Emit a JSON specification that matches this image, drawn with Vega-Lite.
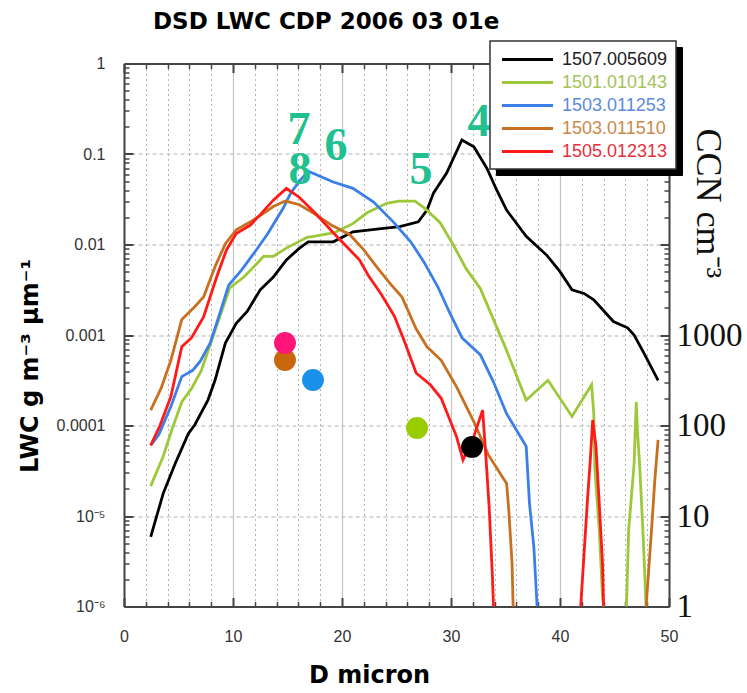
{
  "$schema": "https://vega.github.io/schema/vega-lite/v6.json",
  "autosize": "none",
  "width": 545,
  "height": 543,
  "padding": {"left": 124, "top": 63.5, "right": 78, "bottom": 86.5},
  "background": "#ffffff",
  "config": {"view": {"stroke": null}},
  "title": {"text": "DSD LWC CDP 2006 03 01e", "font": "DejaVu Sans", "fontWeight": "bold", "fontSize": 23, "color": "#000000", "anchor": "start", "frame": "group", "dx": 29, "offset": 0, "dy": 12, "baseline": "alphabetic"},
  "datasets": {
    "curves": [
      {"s": "1507.005609", "d": 2.45, "v": 5.89e-6}, {"s": "1507.005609", "d": 3.6, "v": 1.78e-5}, {"s": "1507.005609", "d": 4.7, "v": 3.8e-5}, {"s": "1507.005609", "d": 5.9, "v": 8.13e-5}, {"s": "1507.005609", "d": 6.5, "v": 1.02e-4}, {"s": "1507.005609", "d": 7.7, "v": 1.91e-4}, {"s": "1507.005609", "d": 8.35, "v": 3.16e-4}, {"s": "1507.005609", "d": 9.3, "v": 8.13e-4}, {"s": "1507.005609", "d": 10.3, "v": 1.35e-3}, {"s": "1507.005609", "d": 11.3, "v": 1.82e-3}, {"s": "1507.005609", "d": 12.5, "v": 3.16e-3}, {"s": "1507.005609", "d": 13.7, "v": 4.37e-3}, {"s": "1507.005609", "d": 14.9, "v": 6.76e-3}, {"s": "1507.005609", "d": 16.1, "v": 9.12e-3}, {"s": "1507.005609", "d": 16.9, "v": 1.07e-2}, {"s": "1507.005609", "d": 19.2, "v": 1.07e-2}, {"s": "1507.005609", "d": 21.0, "v": 1.38e-2}, {"s": "1507.005609", "d": 23.8, "v": 1.51e-2}, {"s": "1507.005609", "d": 25.3, "v": 1.58e-2}, {"s": "1507.005609", "d": 27.0, "v": 1.78e-2}, {"s": "1507.005609", "d": 27.8, "v": 2.4e-2}, {"s": "1507.005609", "d": 28.4, "v": 3.72e-2}, {"s": "1507.005609", "d": 29.6, "v": 6.17e-2}, {"s": "1507.005609", "d": 31.0, "v": 1.43e-1}, {"s": "1507.005609", "d": 32.1, "v": 1.2e-1}, {"s": "1507.005609", "d": 33.3, "v": 6.92e-2}, {"s": "1507.005609", "d": 34.2, "v": 3.98e-2}, {"s": "1507.005609", "d": 35.1, "v": 2.4e-2}, {"s": "1507.005609", "d": 36.9, "v": 1.23e-2}, {"s": "1507.005609", "d": 38.8, "v": 7.59e-3}, {"s": "1507.005609", "d": 40.0, "v": 5.01e-3}, {"s": "1507.005609", "d": 41.1, "v": 3.16e-3}, {"s": "1507.005609", "d": 42.2, "v": 2.88e-3}, {"s": "1507.005609", "d": 43.1, "v": 2.45e-3}, {"s": "1507.005609", "d": 44.9, "v": 1.41e-3}, {"s": "1507.005609", "d": 46.2, "v": 1.2e-3}, {"s": "1507.005609", "d": 46.8, "v": 1.0e-3}, {"s": "1507.005609", "d": 47.7, "v": 6.31e-4}, {"s": "1507.005609", "d": 49.0, "v": 3.16e-4},
      {"s": "1501.010143", "d": 2.45, "v": 2.14e-5}, {"s": "1501.010143", "d": 3.6, "v": 4.57e-5}, {"s": "1501.010143", "d": 4.38, "v": 8.91e-5}, {"s": "1501.010143", "d": 5.3, "v": 1.82e-4}, {"s": "1501.010143", "d": 6.2, "v": 2.57e-4}, {"s": "1501.010143", "d": 7.1, "v": 4.07e-4}, {"s": "1501.010143", "d": 8.35, "v": 1.12e-3}, {"s": "1501.010143", "d": 9.7, "v": 3.31e-3}, {"s": "1501.010143", "d": 11.0, "v": 4.37e-3}, {"s": "1501.010143", "d": 12.2, "v": 6.17e-3}, {"s": "1501.010143", "d": 12.8, "v": 7.41e-3}, {"s": "1501.010143", "d": 13.7, "v": 7.41e-3}, {"s": "1501.010143", "d": 14.9, "v": 9.12e-3}, {"s": "1501.010143", "d": 16.8, "v": 1.2e-2}, {"s": "1501.010143", "d": 17.4, "v": 1.23e-2}, {"s": "1501.010143", "d": 19.3, "v": 1.35e-2}, {"s": "1501.010143", "d": 21.0, "v": 1.7e-2}, {"s": "1501.010143", "d": 22.3, "v": 2.24e-2}, {"s": "1501.010143", "d": 24.1, "v": 2.85e-2}, {"s": "1501.010143", "d": 25.2, "v": 3.02e-2}, {"s": "1501.010143", "d": 26.7, "v": 3.02e-2}, {"s": "1501.010143", "d": 27.6, "v": 2.51e-2}, {"s": "1501.010143", "d": 29.0, "v": 1.74e-2}, {"s": "1501.010143", "d": 30.15, "v": 1.02e-2}, {"s": "1501.010143", "d": 31.4, "v": 5.37e-3}, {"s": "1501.010143", "d": 32.7, "v": 3.24e-3}, {"s": "1501.010143", "d": 33.9, "v": 1.48e-3}, {"s": "1501.010143", "d": 35.1, "v": 6.76e-4}, {"s": "1501.010143", "d": 36.9, "v": 1.91e-4}, {"s": "1501.010143", "d": 38.9, "v": 3.16e-4}, {"s": "1501.010143", "d": 41.1, "v": 1.26e-4}, {"s": "1501.010143", "d": 42.9, "v": 2.82e-4}, {"s": "1501.010143", "d": 43.1, "v": 1.35e-4}, {"s": "1501.010143", "d": 43.2, "v": 3.24e-5}, {"s": "1501.010143", "d": 43.6, "v": 7.08e-6}, {"s": "1501.010143", "d": 43.9, "v": 1.29e-6}, {"s": "1501.010143", "d": 44.0, "v": 1e-6}, {"s": "1501.010143", "d": 44.05, "v": 1e-8}, {"s": "1501.010143", "d": 46.05, "v": 1e-8}, {"s": "1501.010143", "d": 46.1, "v": 1e-6}, {"s": "1501.010143", "d": 46.3, "v": 7.08e-6}, {"s": "1501.010143", "d": 46.8, "v": 3.8e-5}, {"s": "1501.010143", "d": 46.9, "v": 8.91e-5}, {"s": "1501.010143", "d": 47.0, "v": 1.82e-4}, {"s": "1501.010143", "d": 47.1, "v": 8.91e-5}, {"s": "1501.010143", "d": 47.3, "v": 3.8e-5}, {"s": "1501.010143", "d": 47.6, "v": 7.08e-6}, {"s": "1501.010143", "d": 47.9, "v": 1e-6},
      {"s": "1503.011253", "d": 2.45, "v": 6.03e-5}, {"s": "1503.011253", "d": 3.2, "v": 7.94e-5}, {"s": "1503.011253", "d": 4.3, "v": 1.62e-4}, {"s": "1503.011253", "d": 5.3, "v": 3.47e-4}, {"s": "1503.011253", "d": 6.3, "v": 4.07e-4}, {"s": "1503.011253", "d": 7.0, "v": 5.13e-4}, {"s": "1503.011253", "d": 7.9, "v": 8.13e-4}, {"s": "1503.011253", "d": 8.8, "v": 1.74e-3}, {"s": "1503.011253", "d": 9.6, "v": 3.55e-3}, {"s": "1503.011253", "d": 10.8, "v": 5.25e-3}, {"s": "1503.011253", "d": 12.2, "v": 8.91e-3}, {"s": "1503.011253", "d": 13.2, "v": 1.32e-2}, {"s": "1503.011253", "d": 14.0, "v": 1.91e-2}, {"s": "1503.011253", "d": 14.6, "v": 2.51e-2}, {"s": "1503.011253", "d": 15.3, "v": 3.72e-2}, {"s": "1503.011253", "d": 16.1, "v": 5.01e-2}, {"s": "1503.011253", "d": 16.9, "v": 6.46e-2}, {"s": "1503.011253", "d": 19.2, "v": 4.9e-2}, {"s": "1503.011253", "d": 21.0, "v": 4.17e-2}, {"s": "1503.011253", "d": 22.9, "v": 2.95e-2}, {"s": "1503.011253", "d": 24.7, "v": 1.78e-2}, {"s": "1503.011253", "d": 26.3, "v": 1.07e-2}, {"s": "1503.011253", "d": 27.5, "v": 6.46e-3}, {"s": "1503.011253", "d": 28.8, "v": 3.39e-3}, {"s": "1503.011253", "d": 29.9, "v": 1.74e-3}, {"s": "1503.011253", "d": 31.0, "v": 9.33e-4}, {"s": "1503.011253", "d": 32.7, "v": 6.03e-4}, {"s": "1503.011253", "d": 33.9, "v": 3.02e-4}, {"s": "1503.011253", "d": 35.1, "v": 1.35e-4}, {"s": "1503.011253", "d": 36.9, "v": 5.89e-5}, {"s": "1503.011253", "d": 37.2, "v": 1.38e-5}, {"s": "1503.011253", "d": 37.6, "v": 4.57e-6}, {"s": "1503.011253", "d": 37.9, "v": 1e-6},
      {"s": "1503.011510", "d": 2.45, "v": 1.48e-4}, {"s": "1503.011510", "d": 3.4, "v": 2.57e-4}, {"s": "1503.011510", "d": 4.3, "v": 5.25e-4}, {"s": "1503.011510", "d": 5.3, "v": 1.48e-3}, {"s": "1503.011510", "d": 6.4, "v": 2.0e-3}, {"s": "1503.011510", "d": 7.3, "v": 2.63e-3}, {"s": "1503.011510", "d": 8.35, "v": 5.69e-3}, {"s": "1503.011510", "d": 9.3, "v": 1.02e-2}, {"s": "1503.011510", "d": 10.3, "v": 1.45e-2}, {"s": "1503.011510", "d": 11.6, "v": 1.78e-2}, {"s": "1503.011510", "d": 12.8, "v": 2.21e-2}, {"s": "1503.011510", "d": 13.7, "v": 2.63e-2}, {"s": "1503.011510", "d": 14.8, "v": 3.02e-2}, {"s": "1503.011510", "d": 16.1, "v": 2.75e-2}, {"s": "1503.011510", "d": 17.6, "v": 2.14e-2}, {"s": "1503.011510", "d": 19.1, "v": 1.62e-2}, {"s": "1503.011510", "d": 20.7, "v": 1.29e-2}, {"s": "1503.011510", "d": 22.0, "v": 8.71e-3}, {"s": "1503.011510", "d": 23.2, "v": 5.62e-3}, {"s": "1503.011510", "d": 24.4, "v": 3.72e-3}, {"s": "1503.011510", "d": 25.5, "v": 2.63e-3}, {"s": "1503.011510", "d": 26.8, "v": 1.17e-3}, {"s": "1503.011510", "d": 27.8, "v": 7.41e-4}, {"s": "1503.011510", "d": 29.1, "v": 5.25e-4}, {"s": "1503.011510", "d": 30.5, "v": 2.69e-4}, {"s": "1503.011510", "d": 32.1, "v": 1.1e-4}, {"s": "1503.011510", "d": 33.4, "v": 4.79e-5}, {"s": "1503.011510", "d": 35.1, "v": 2.29e-5}, {"s": "1503.011510", "d": 35.3, "v": 1.17e-5}, {"s": "1503.011510", "d": 35.6, "v": 3.02e-6}, {"s": "1503.011510", "d": 35.7, "v": 1e-6}, {"s": "1503.011510", "d": 35.75, "v": 1e-8}, {"s": "1503.011510", "d": 47.85, "v": 1e-8}, {"s": "1503.011510", "d": 47.9, "v": 1e-6}, {"s": "1503.011510", "d": 48.4, "v": 7.08e-6}, {"s": "1503.011510", "d": 48.7, "v": 2.51e-5}, {"s": "1503.011510", "d": 49.0, "v": 6.92e-5},
      {"s": "1505.012313", "d": 2.45, "v": 6.03e-5}, {"s": "1505.012313", "d": 3.3, "v": 1.0e-4}, {"s": "1505.012313", "d": 4.3, "v": 2.09e-4}, {"s": "1505.012313", "d": 5.3, "v": 7.41e-4}, {"s": "1505.012313", "d": 6.2, "v": 9.33e-4}, {"s": "1505.012313", "d": 7.3, "v": 1.58e-3}, {"s": "1505.012313", "d": 8.5, "v": 4.37e-3}, {"s": "1505.012313", "d": 9.4, "v": 8.71e-3}, {"s": "1505.012313", "d": 10.3, "v": 1.32e-2}, {"s": "1505.012313", "d": 11.6, "v": 1.64e-2}, {"s": "1505.012313", "d": 12.5, "v": 2.14e-2}, {"s": "1505.012313", "d": 13.7, "v": 3.09e-2}, {"s": "1505.012313", "d": 14.9, "v": 4.17e-2}, {"s": "1505.012313", "d": 16.1, "v": 3.31e-2}, {"s": "1505.012313", "d": 17.6, "v": 2.19e-2}, {"s": "1505.012313", "d": 19.2, "v": 1.35e-2}, {"s": "1505.012313", "d": 20.4, "v": 9.55e-3}, {"s": "1505.012313", "d": 21.6, "v": 6.76e-3}, {"s": "1505.012313", "d": 22.4, "v": 4.57e-3}, {"s": "1505.012313", "d": 23.6, "v": 2.82e-3}, {"s": "1505.012313", "d": 24.8, "v": 1.62e-3}, {"s": "1505.012313", "d": 25.7, "v": 8.71e-4}, {"s": "1505.012313", "d": 26.8, "v": 3.8e-4}, {"s": "1505.012313", "d": 28.1, "v": 2.82e-4}, {"s": "1505.012313", "d": 29.1, "v": 2.0e-4}, {"s": "1505.012313", "d": 30.5, "v": 7.59e-5}, {"s": "1505.012313", "d": 31.1, "v": 4.17e-5}, {"s": "1505.012313", "d": 32.1, "v": 7.59e-5}, {"s": "1505.012313", "d": 32.9, "v": 1.48e-4}, {"s": "1505.012313", "d": 33.2, "v": 4.57e-5}, {"s": "1505.012313", "d": 33.5, "v": 1.26e-5}, {"s": "1505.012313", "d": 33.8, "v": 2.14e-6}, {"s": "1505.012313", "d": 33.9, "v": 1e-6}, {"s": "1505.012313", "d": 33.95, "v": 1e-8}, {"s": "1505.012313", "d": 41.85, "v": 1e-8}, {"s": "1505.012313", "d": 41.9, "v": 1e-6}, {"s": "1505.012313", "d": 42.5, "v": 1.38e-5}, {"s": "1505.012313", "d": 42.8, "v": 4.57e-5}, {"s": "1505.012313", "d": 43.0, "v": 1.15e-4}, {"s": "1505.012313", "d": 43.3, "v": 5.89e-5}, {"s": "1505.012313", "d": 43.6, "v": 1.38e-5}, {"s": "1505.012313", "d": 43.9, "v": 3.02e-6}, {"s": "1505.012313", "d": 44.0, "v": 1e-6}
    ],
    "dots": [
      {"s": "1503.011510", "d": 14.77, "v": 5.3e-4},
      {"s": "1505.012313", "d": 14.77, "v": 8.16e-4},
      {"s": "1503.011253", "d": 17.34, "v": 3.18e-4},
      {"s": "1501.010143", "d": 26.88, "v": 9.4e-5},
      {"s": "1507.005609", "d": 31.93, "v": 5.8e-5}
    ],
    "nums": [
      {"n": "7", "d": 16.06, "v": 0.184},
      {"n": "8", "d": 16.15, "v": 0.0665},
      {"n": "6", "d": 19.45, "v": 0.1226},
      {"n": "5", "d": 27.25, "v": 0.0665},
      {"n": "4", "d": 32.57, "v": 0.226}
    ]
  },
  "resolve": {"scale": {"color": "independent"}, "legend": {"color": "independent"}, "axis": {"x": "independent", "y": "independent"}},
  "layer": [
    {
      "data": {"name": "curves"},
      "mark": {"type": "line", "strokeWidth": 2.8, "clip": true},
      "encoding": {
        "x": {"field": "d", "type": "quantitative", "scale": {"domain": [0, 50], "nice": false, "zero": false},
          "axis": {"orient": "bottom", "values": [2, 4, 6, 8, 12, 14, 16, 18, 22, 24, 26, 28, 32, 34, 36, 38, 42, 44, 46, 48], "labels": false, "title": null, "domain": false, "grid": true, "gridColor": "#b4b4b4", "gridDash": [2, 3], "gridWidth": 1, "ticks": true, "tickSize": -5, "tickColor": "#444444", "tickWidth": 1.5}},
        "y": {"field": "v", "type": "quantitative", "scale": {"type": "log", "domain": [1e-6, 1], "nice": false},
          "axis": {"orient": "left", "values": [2e-6, 3e-6, 4e-6, 5e-6, 6e-6, 7e-6, 8e-6, 9e-6, 2e-5, 3e-5, 4e-5, 5e-5, 6e-5, 7e-5, 8e-5, 9e-5, 2e-4, 3e-4, 4e-4, 5e-4, 6e-4, 7e-4, 8e-4, 9e-4, 2e-3, 3e-3, 4e-3, 5e-3, 6e-3, 7e-3, 8e-3, 9e-3, 2e-2, 3e-2, 4e-2, 5e-2, 6e-2, 7e-2, 8e-2, 9e-2, 0.2, 0.3, 0.4, 0.5, 0.6, 0.7, 0.8, 0.9], "labels": false, "title": null, "domain": false, "grid": false, "ticks": true, "tickSize": -5, "tickColor": "#444444", "tickWidth": 1.5}},
        "color": {"field": "s", "type": "nominal",
          "scale": {"domain": ["1507.005609", "1501.010143", "1503.011253", "1503.011510", "1505.012313"], "range": ["#000000", "#9cc83a", "#3b7fe8", "#c8701f", "#ff1a1a"]},
          "legend": {"orient": "none", "legendX": 366, "legendY": -22.5, "title": null, "fillColor": "#ffffff", "strokeColor": "#333333", "padding": 8, "symbolType": "M-2.8333,0H2.8333", "symbolSize": 324, "symbolStrokeWidth": 3, "symbolOffset": 19, "labelOffset": 24, "labelFont": "Liberation Sans", "labelFontSize": 18, "rowPadding": 3, "zindex": 2,
            "encode": {"labels": {"update": {"fill": {"signal": "datum.value === '1507.005609' ? '#222222' : datum.value === '1501.010143' ? '#a3c45a' : datum.value === '1503.011253' ? '#5b8ae0' : datum.value === '1503.011510' ? '#c98a4a' : '#e8303c'"}}}, "legend": {"update": {"strokeWidth": {"value": 1.5}}}}}}
      }
    },
    {
      "data": {"name": "dots"},
      "mark": {"type": "point", "filled": true, "size": 480, "opacity": 1},
      "encoding": {
        "x": {"field": "d", "type": "quantitative", "scale": {"domain": [0, 50], "nice": false, "zero": false},
          "axis": {"orient": "bottom", "values": [0, 10, 20, 30, 40, 50], "labels": true, "labelFont": "Liberation Sans", "labelFontSize": 16, "labelColor": "#333333", "labelPadding": 31, "labelFlush": false, "grid": true, "gridColor": "#c4c4c4", "gridWidth": 1.2, "ticks": true, "tickSize": -9, "tickColor": "#444444", "tickWidth": 2, "domain": true, "domainColor": "#444444", "domainWidth": 2,
            "title": "D micron", "titleFont": "DejaVu Sans", "titleFontWeight": "bold", "titleFontSize": 24, "titleColor": "#000000", "titleX": 245, "titleY": 76, "titleAlign": "center", "titleBaseline": "alphabetic"}},
        "y": {"field": "v", "type": "quantitative", "scale": {"type": "log", "domain": [1e-6, 1], "nice": false},
          "axis": {"orient": "left", "values": [1e-6, 1e-5, 1e-4, 1e-3, 1e-2, 0.1, 1], "labelExpr": "datum.value < 5e-6 ? '10⁻⁶' : datum.value < 5e-5 ? '10⁻⁵' : format(datum.value, '~g')", "labelFont": "Liberation Sans", "labelFontSize": 16, "labelColor": "#333333", "labelPadding": 28, "labelFlush": false, "grid": true, "gridColor": "#b4b4b4", "gridDash": [4, 3], "gridWidth": 1, "ticks": true, "tickSize": -9, "tickColor": "#444444", "tickWidth": 2, "domain": true, "domainColor": "#444444", "domainWidth": 2,
            "title": "LWC  g m⁻³ μm⁻¹", "titleFont": "DejaVu Sans", "titleFontWeight": "bold", "titleFontSize": 24, "titleColor": "#000000", "titleX": -94, "titleY": 302, "titleAngle": 270, "titleAlign": "center", "titleBaseline": "middle"}},
        "color": {"field": "s", "type": "nominal",
          "scale": {"domain": ["1507.005609", "1501.010143", "1503.011253", "1503.011510", "1505.012313"], "range": ["#000000", "#99cc00", "#1a90ea", "#c8670c", "#ff1478"]},
          "legend": {"orient": "none", "legendX": 372, "legendY": -16.5, "title": null, "fillColor": "#000000", "strokeColor": "#000000", "padding": 8, "symbolType": "M-2.8333,0H2.8333", "symbolSize": 324, "symbolStrokeWidth": 3, "symbolOffset": 19, "labelOffset": 24, "labelFont": "Liberation Sans", "labelFontSize": 18, "rowPadding": 3, "labelOpacity": 0, "symbolOpacity": 0, "zindex": 1}}
      }
    },
    {
      "data": {"name": "nums"},
      "transform": [{"filter": "datum.n == '7' || datum.n == '8' || datum.n == '6'"}],
      "mark": {"type": "text", "font": "Liberation Serif", "fontWeight": "bold", "fontSize": 46, "color": "#20c08f", "align": "center", "baseline": "middle"},
      "encoding": {
        "x": {"field": "d", "type": "quantitative", "scale": {"domain": [0, 50], "nice": false, "zero": false},
          "axis": {"orient": "top", "values": [0, 10, 20, 30, 40, 50], "labels": false, "title": null, "grid": false, "ticks": true, "tickSize": -9, "tickColor": "#444444", "tickWidth": 2, "domain": true, "domainColor": "#444444", "domainWidth": 2}},
        "y": {"field": "v", "type": "quantitative", "scale": {"type": "log", "domain": [1e-6, 1], "nice": false},
          "axis": {"orient": "right", "values": [1e-6, 1e-5, 1e-4, 1e-3, 1e-2, 0.1, 1], "labelExpr": "datum.value < 1.5e-3 ? format(datum.value * 1e6, 'd') : ''", "labelFont": "Liberation Serif", "labelFontSize": 33, "labelColor": "#111111", "labelPadding": 16, "labelFlush": false, "grid": false, "ticks": true, "tickSize": -9, "tickColor": "#444444", "tickWidth": 2, "domain": true, "domainColor": "#444444", "domainWidth": 2,
            "title": "CCN cm⁻³", "titleFont": "Liberation Serif", "titleFontWeight": "normal", "titleFontSize": 36, "titleColor": "#111111", "titleX": 38, "titleY": 64.5, "titleAngle": 90, "titleAlign": "left", "titleBaseline": "middle"}},
        "text": {"field": "n", "type": "nominal"}
      }
    },
    {
      "data": {"name": "nums"},
      "transform": [{"filter": "datum.n == '5' || datum.n == '4'"}],
      "mark": {"type": "text", "font": "Liberation Serif", "fontWeight": "bold", "fontSize": 46, "color": "#20c08f", "align": "center", "baseline": "middle"},
      "encoding": {
        "x": {"field": "d", "type": "quantitative", "scale": {"domain": [0, 50], "nice": false, "zero": false},
          "axis": {"orient": "top", "values": [2, 4, 6, 8, 12, 14, 16, 18, 22, 24, 26, 28, 32, 34, 36, 38, 42, 44, 46, 48], "labels": false, "title": null, "grid": false, "ticks": true, "tickSize": -5, "tickColor": "#444444", "tickWidth": 1.5, "domain": false}},
        "y": {"field": "v", "type": "quantitative", "scale": {"type": "log", "domain": [1e-6, 1], "nice": false},
          "axis": {"orient": "right", "values": [2e-6, 3e-6, 4e-6, 5e-6, 6e-6, 7e-6, 8e-6, 9e-6, 2e-5, 3e-5, 4e-5, 5e-5, 6e-5, 7e-5, 8e-5, 9e-5, 2e-4, 3e-4, 4e-4, 5e-4, 6e-4, 7e-4, 8e-4, 9e-4, 2e-3, 3e-3, 4e-3, 5e-3, 6e-3, 7e-3, 8e-3, 9e-3, 2e-2, 3e-2, 4e-2, 5e-2, 6e-2, 7e-2, 8e-2, 9e-2, 0.2, 0.3, 0.4, 0.5, 0.6, 0.7, 0.8, 0.9], "labels": false, "title": null, "grid": false, "ticks": true, "tickSize": -5, "tickColor": "#444444", "tickWidth": 1.5, "domain": false}},
        "text": {"field": "n", "type": "nominal"}
      }
    }
  ]
}
